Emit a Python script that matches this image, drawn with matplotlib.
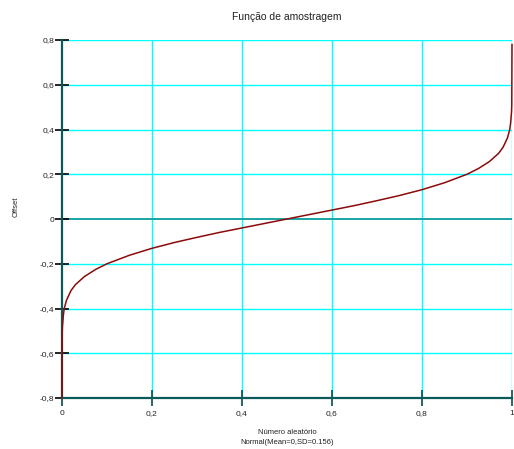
import matplotlib
matplotlib.use("Agg")
import matplotlib.pyplot as plt

plt.rcParams['font.family'] = ['Liberation Sans', 'DejaVu Sans']

# Sampling function: random number -> offset
rand_num = [0.0, 0.0005, 0.001, 0.003, 0.005, 0.01, 0.02, 0.03, 0.05, 0.075,
            0.1, 0.15, 0.2, 0.25, 0.3, 0.35, 0.4, 0.45, 0.5, 0.55, 0.6, 0.65,
            0.7, 0.75, 0.8, 0.85, 0.9, 0.925, 0.95, 0.97, 0.98, 0.99, 0.995,
            0.997, 0.999, 0.9995, 1.0]
offset = [-0.80, -0.51, -0.48, -0.43, -0.40, -0.363, -0.32, -0.293, -0.257, -0.225,
          -0.20, -0.162, -0.131, -0.105, -0.082, -0.060, -0.040, -0.020, 0.0, 0.020,
          0.040, 0.060, 0.082, 0.105, 0.131, 0.162, 0.20, 0.225, 0.257, 0.293,
          0.32, 0.363, 0.40, 0.43, 0.48, 0.51, 0.78]

x_ticks = [0, 0.2, 0.4, 0.6, 0.8, 1.0]
x_tick_labels = ["0", "0,2", "0,4", "0,6", "0,8", "1"]
y_ticks = [-0.8, -0.6, -0.4, -0.2, 0, 0.2, 0.4, 0.6, 0.8]
y_tick_labels = ["-0,8", "-0,6", "-0,4", "-0,2", "0", "0,2", "0,4", "0,6", "0,8"]

fig = plt.figure(figsize=(5.14, 4.49), dpi=100)
ax = fig.add_axes([62/514, 51/449, 450/514, 358/449])

ax.set_xlim(0, 1)
ax.set_ylim(-0.8, 0.8)

# grid
for xv in x_ticks[1:]:
    ax.axvline(xv, color='#00ffff', lw=1.0, zorder=1)
for yv in y_ticks:
    if yv == 0:
        ax.axhline(yv, color='#1aa3a3', lw=1.4, zorder=1)
    else:
        ax.axhline(yv, color='#00ffff', lw=1.0, zorder=1)

for s in ['top', 'right']:
    ax.spines[s].set_visible(False)
for s in ['left', 'bottom']:
    ax.spines[s].set_color('#0b5a5a')
    ax.spines[s].set_linewidth(1.6)
    ax.spines[s].set_zorder(3)

ax.plot(rand_num, offset, color='#8b0a0a', lw=1.1, zorder=5, clip_on=False)

ax.set_xticks(x_ticks)
ax.set_xticklabels(x_tick_labels)
ax.set_yticks(y_ticks)
ax.set_yticklabels(y_tick_labels)
ax.tick_params(axis='y', direction='inout', length=10, width=1.2, color='black',
               pad=0.5, labelsize=6, labelcolor='#222222')
ax.tick_params(axis='x', direction='inout', length=11, width=1.2, color='#0b4a4a',
               pad=3, labelsize=6, labelcolor='#222222')

fig.text(287/514, 1 - 17/449, "Função de amostragem", ha='center', va='center',
         fontsize=7.5, color='#222222')
fig.text(16/514, 1 - 207/449, "Offset", ha='center', va='center', rotation=90,
         fontsize=5.5, color='#222222')
fig.text(287/514, 1 - 433/449, "Número aleatório", ha='center', va='center',
         fontsize=5.5, color='#222222')
fig.text(287/514, 1 - 443/449, "Normal(Mean=0,SD=0.156)", ha='center', va='center',
         fontsize=5.5, color='#222222')

fig.savefig("out.png", dpi=100)
